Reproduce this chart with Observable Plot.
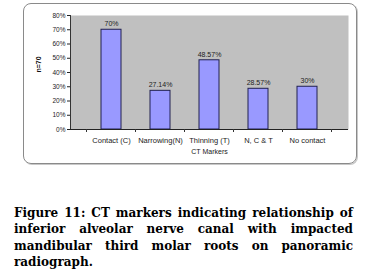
<!DOCTYPE html>
<html>
<head>
<meta charset="utf-8">
<script src="https://cdn.jsdelivr.net/npm/d3@7"></script>
<script src="https://cdn.jsdelivr.net/npm/@observablehq/plot@0.6"></script>
<style>
  html, body { margin: 0; padding: 0; background: #fff; }
  #wrap { position: relative; width: 389px; height: 276px; overflow: hidden; }
  #frame { position: absolute; left: 23px; top: 3px; width: 332px; height: 159px;
           border: 1px solid #8a8a8a; border-radius: 8px; box-shadow: 1px 1px 0 #c8c8c8; }
  #chart { position: absolute; left: 0; top: 0; }
  #caption { position: absolute; left: 14px; top: 205px; width: 339px;
             font-family: "DejaVu Serif", serif; font-weight: bold; font-size: 12px;
             line-height: 16.4px; text-align: justify; color: #000; }
</style>
</head>
<body>
<div id="wrap">
  <div id="frame"></div>
  <div id="chart"></div>
  <div id="caption">Figure 11: CT markers indicating relationship of inferior alveolar nerve canal with impacted mandibular third molar roots on panoramic radiograph.</div>
</div>
<script>
const categories = ["Contact (C)", "Narrowing(N)", "Thinning (T)", "N, C & T", "No contact"];
const values = [70, 27.14, 48.57, 28.57, 30];
const valueLabels = ["70%", "27.14%", "48.57%", "28.57%", "30%"];
const yTicks = [0, 10, 20, 30, 40, 50, 60, 70, 80];
const xTitle = "CT Markers";
const yTitle = "n=70";

const data = categories.map((c, i) => ({cat: c, v: values[i], label: valueLabels[i]}));

// tick marks at band boundaries, computed from the x scale
function boundaryTicks(index, scales, values, dims) {
  const x = scales.x;
  const bw = x.bandwidth ? x.bandwidth() : 0;
  const step = x.step ? x.step() : bw;
  const g = d3.create("svg:g");
  const y0 = dims.height - dims.marginBottom;
  const edges = categories.map(c => x(c) - (step - bw) / 2);
  edges.push(x(categories[categories.length - 1]) + bw + (step - bw) / 2);
  for (const e of edges) {
    g.append("line").attr("x1", e).attr("x2", e).attr("y1", y0).attr("y2", y0 + 3)
      .attr("stroke", "#333").attr("stroke-width", 1);
  }
  return g.node();
}

// vertical axis line along the left of the plot area
function leftAxisLine(index, scales, values, dims) {
  const xl = dims.marginLeft + 0.5;
  return d3.create("svg:line")
    .attr("x1", xl).attr("x2", xl)
    .attr("y1", scales.y(yTicks[yTicks.length - 1])).attr("y2", scales.y(yTicks[0]))
    .attr("stroke", "#333").attr("stroke-width", 1).node();
}

const chart = Plot.plot({
  width: 389,
  height: 168,
  marginLeft: 70,
  marginRight: 41,
  marginTop: 15,
  marginBottom: 39,
  style: {fontFamily: "Liberation Sans, Arial, sans-serif", fontSize: "7px", color: "#222", background: "transparent"},
  x: {domain: categories, padding: 0.6, label: null},
  y: {domain: [0, 80], label: null},
  marks: [
    Plot.frame({fill: "#c0c0c0", stroke: null}),
    Plot.barY(data, {x: "cat", y: "v", fill: "#9999ff", stroke: "#202050", strokeWidth: 1}),
    Plot.text(data, {x: "cat", y: "v", text: "label", dy: -6, fontSize: 7, fill: "#222"}),
    Plot.axisY({ticks: yTicks, tickFormat: d => d + "%", tickSize: 3, tickPadding: 2, fontSize: 6.5, label: null}),
    leftAxisLine,
    Plot.axisX({tickSize: 0, tickPadding: 8, fontSize: 7.5, label: null}),
    Plot.ruleY([0], {stroke: "#222"}),
    boundaryTicks,
    Plot.text([xTitle], {frameAnchor: "bottom", dy: 24, fontSize: 7, fill: "#222"}),
    Plot.text([yTitle], {frameAnchor: "left", dx: -32, rotate: -90, fontSize: 7, fontWeight: "bold", fill: "#111"})
  ]
});
document.getElementById("chart").appendChild(chart);
</script>
</body>
</html>
